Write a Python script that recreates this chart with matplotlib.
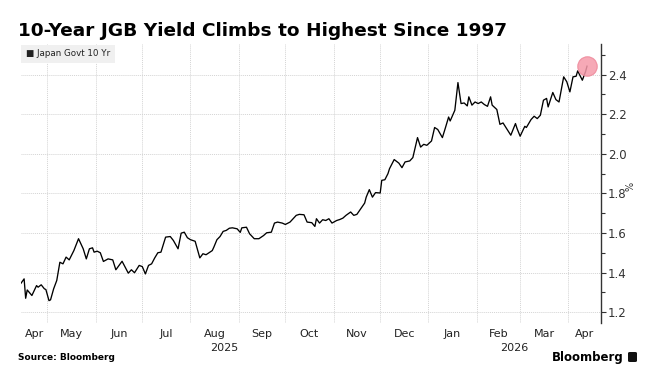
import matplotlib
matplotlib.use("Agg")
import matplotlib.pyplot as plt
import matplotlib.transforms as mtransforms
from matplotlib.patches import FancyBboxPatch
import pandas as pd

# values
dates = [
    "2025-04-14", "2025-04-16", "2025-04-17", "2025-04-18", "2025-04-21", "2025-04-24",
    "2025-04-25", "2025-04-27", "2025-04-29", "2025-04-30", "2025-05-02", "2025-05-03",
    "2025-05-05", "2025-05-07", "2025-05-09", "2025-05-11", "2025-05-13", "2025-05-15",
    "2025-05-18", "2025-05-21", "2025-05-24", "2025-05-26", "2025-05-28", "2025-05-30",
    "2025-05-31", "2025-06-02", "2025-06-04", "2025-06-06", "2025-06-09", "2025-06-12",
    "2025-06-14", "2025-06-18", "2025-06-20", "2025-06-22", "2025-06-24", "2025-06-26",
    "2025-06-29", "2025-07-01", "2025-07-03", "2025-07-05", "2025-07-07", "2025-07-09",
    "2025-07-11", "2025-07-13", "2025-07-16", "2025-07-19", "2025-07-21", "2025-07-24",
    "2025-07-26", "2025-07-28", "2025-07-30", "2025-08-01", "2025-08-04", "2025-08-07",
    "2025-08-09", "2025-08-11", "2025-08-15", "2025-08-16", "2025-08-18", "2025-08-20",
    "2025-08-22", "2025-08-24", "2025-08-26", "2025-08-28", "2025-08-31", "2025-09-02",
    "2025-09-03", "2025-09-06", "2025-09-08", "2025-09-11", "2025-09-14", "2025-09-17",
    "2025-09-19", "2025-09-22", "2025-09-24", "2025-09-26", "2025-09-29", "2025-10-01",
    "2025-10-04", "2025-10-08", "2025-10-10", "2025-10-13", "2025-10-15", "2025-10-18",
    "2025-10-20", "2025-10-21", "2025-10-23", "2025-10-25", "2025-10-27", "2025-10-29",
    "2025-10-31", "2025-11-03", "2025-11-05", "2025-11-07", "2025-11-09", "2025-11-12",
    "2025-11-14", "2025-11-16", "2025-11-18", "2025-11-21", "2025-11-22", "2025-11-24",
    "2025-11-26", "2025-11-28", "2025-12-01", "2025-12-02", "2025-12-04", "2025-12-06",
    "2025-12-07", "2025-12-10", "2025-12-13", "2025-12-15", "2025-12-17", "2025-12-20",
    "2025-12-22", "2025-12-25", "2025-12-27", "2025-12-29", "2025-12-31", "2026-01-03",
    "2026-01-05", "2026-01-07", "2026-01-10", "2026-01-12", "2026-01-14", "2026-01-15",
    "2026-01-18", "2026-01-20", "2026-01-22", "2026-01-24", "2026-01-26", "2026-01-27",
    "2026-01-29", "2026-01-31", "2026-02-02", "2026-02-04", "2026-02-06", "2026-02-08",
    "2026-02-10", "2026-02-11", "2026-02-14", "2026-02-16", "2026-02-18", "2026-02-21",
    "2026-02-23", "2026-02-26", "2026-02-27", "2026-03-01", "2026-03-04", "2026-03-05",
    "2026-03-08", "2026-03-10", "2026-03-12", "2026-03-14", "2026-03-16", "2026-03-18",
    "2026-03-19", "2026-03-22", "2026-03-24", "2026-03-26", "2026-03-29", "2026-03-31",
    "2026-04-02", "2026-04-04", "2026-04-06", "2026-04-07", "2026-04-10", "2026-04-12",
    "2026-04-13",
]
yields = [
    1.346, 1.368, 1.270, 1.312, 1.284, 1.334,
    1.326, 1.338, 1.318, 1.314, 1.258, 1.262,
    1.318, 1.360, 1.452, 1.444, 1.478, 1.464,
    1.511, 1.571, 1.520, 1.469, 1.520, 1.525,
    1.503, 1.508, 1.500, 1.456, 1.469, 1.464,
    1.414, 1.457, 1.427, 1.397, 1.414, 1.399,
    1.436, 1.430, 1.393, 1.436, 1.444, 1.474,
    1.500, 1.503, 1.579, 1.582, 1.562, 1.520,
    1.599, 1.604, 1.576, 1.566, 1.558, 1.474,
    1.495, 1.490, 1.511, 1.528, 1.566, 1.582,
    1.608, 1.613, 1.624, 1.626, 1.621, 1.603,
    1.626, 1.629, 1.596, 1.571, 1.571, 1.587,
    1.601, 1.604, 1.650, 1.655, 1.650, 1.643,
    1.655, 1.689, 1.694, 1.692, 1.655, 1.652,
    1.633, 1.672, 1.650, 1.667, 1.663, 1.672,
    1.650, 1.663, 1.668, 1.675, 1.689, 1.706,
    1.689, 1.694, 1.717, 1.751, 1.781, 1.819,
    1.781, 1.804, 1.802, 1.866, 1.869, 1.900,
    1.925, 1.971, 1.953, 1.930, 1.959, 1.964,
    1.981, 2.082, 2.034, 2.048, 2.043, 2.065,
    2.133, 2.123, 2.082, 2.133, 2.186, 2.166,
    2.220, 2.360, 2.254, 2.257, 2.242, 2.288,
    2.246, 2.262, 2.254, 2.262, 2.249, 2.240,
    2.288, 2.246, 2.224, 2.149, 2.156, 2.119,
    2.094, 2.153, 2.128, 2.089, 2.139, 2.133,
    2.173, 2.190, 2.178, 2.195, 2.271, 2.280,
    2.237, 2.310, 2.274, 2.262, 2.389, 2.364,
    2.313, 2.389, 2.392, 2.419, 2.372, 2.414,
    2.443,
]
y_ticks = [1.2, 1.4, 1.6, 1.8, 2.0, 2.2, 2.4]
y_minor = [1.3, 1.5, 1.7, 1.9, 2.1, 2.3, 2.5]
x_start, x_end = "2025-04-14", "2026-04-22"
title = "10-Year JGB Yield Climbs to Highest Since 1997"
series_name = "Japan Govt 10 Yr"

x = pd.to_datetime(dates)
x0, x1 = pd.Timestamp(x_start), pd.Timestamp(x_end)

fig = plt.figure(figsize=(6.56, 3.85), dpi=100)
ax = fig.add_axes([21 / 656, 62 / 385, 580 / 656, 279 / 385])

ax.plot(x, yields, color="black", lw=0.95, zorder=3)
ax.plot(x[-1:], yields[-1:], "o", ms=14, mfc="#f59aaa", mec="#ee8799",
        mew=0.8, alpha=0.85, zorder=4)

ax.set_xlim(x0, x1)
ax.set_ylim(1.145, 2.555)

# month gridlines at month starts, labels centred on each visible month
starts = pd.date_range("2025-05-01", "2026-04-01", freq="MS")
edges = [x0] + list(starts) + [x1]
mids = [a + (b - a) / 2 for a, b in zip(edges[:-1], edges[1:])]
ax.set_xticks(starts)
ax.set_xticklabels([])
ax.set_xticks(mids, minor=True)
ax.set_xticklabels([m.strftime("%b") for m in mids], minor=True)
ax.tick_params(axis="x", which="both", length=0, labelsize=8, pad=4,
               labelcolor="#222222")

ax.yaxis.tick_right()
ax.set_yticks(y_ticks)
ax.set_yticklabels([f"{v:.1f}" for v in y_ticks])
ax.set_yticks(y_minor, minor=True)
ax.tick_params(axis="y", which="major", length=3.5, width=0.8, direction="out",
               labelsize=8.5, pad=1.5, colors="#333333")
ax.tick_params(axis="y", which="minor", length=3, width=0.8, direction="out",
               colors="#333333")

ax.grid(which="major", color="#d4d4d4", lw=0.7, ls=(0, (1, 1)))
for s in ["top", "left", "bottom"]:
    ax.spines[s].set_visible(False)
ax.spines["right"].set_color("#333333")
ax.spines["right"].set_linewidth(1.0)

# year labels under the months
trans = mtransforms.blended_transform_factory(ax.transData, ax.transAxes)
year_edges = [x0, pd.Timestamp("2026-01-01"), x1]
for a, b in zip(year_edges[:-1], year_edges[1:]):
    mid = a + (b - a) / 2
    ax.text(mid, -0.072, str(mid.year), transform=trans, ha="center",
            va="top", fontsize=8, color="#222222")

# series tag
ax.annotate("\u25A0 " + series_name, xy=(0, 1), xycoords="axes fraction",
            xytext=(5, -10), textcoords="offset pixels", va="center",
            ha="left", fontsize=6.3, color="#222222",
            bbox=dict(boxstyle="square,pad=0.55", fc="#f0f0f0", ec="none"))

fig.text(630 / 656, 1 - 186 / 385, "%", rotation=90, fontsize=7,
         ha="center", va="center", color="#333333")

fig.text(18 / 656, 1 - 31 / 385, title, fontsize=13.3, fontweight="heavy",
         ha="left", va="center", color="black")
fig.text(18 / 656, 1 - 357 / 385, "Source: Bloomberg", fontsize=6.5,
         fontweight="bold", ha="left", va="center", color="black")
fig.text(624 / 656, 1 - 357 / 385, "Bloomberg", fontsize=8.5,
         fontweight="semibold", ha="right", va="center", color="black")

# little logo block next to the wordmark
fig.patches.append(FancyBboxPatch((628 / 656, 1 - 362 / 385), 9 / 656, 10 / 385,
                                  boxstyle="round,pad=0,rounding_size=0.003",
                                  transform=fig.transFigure, fc="#111111",
                                  ec="none"))

fig.savefig("out.png", dpi=100)
